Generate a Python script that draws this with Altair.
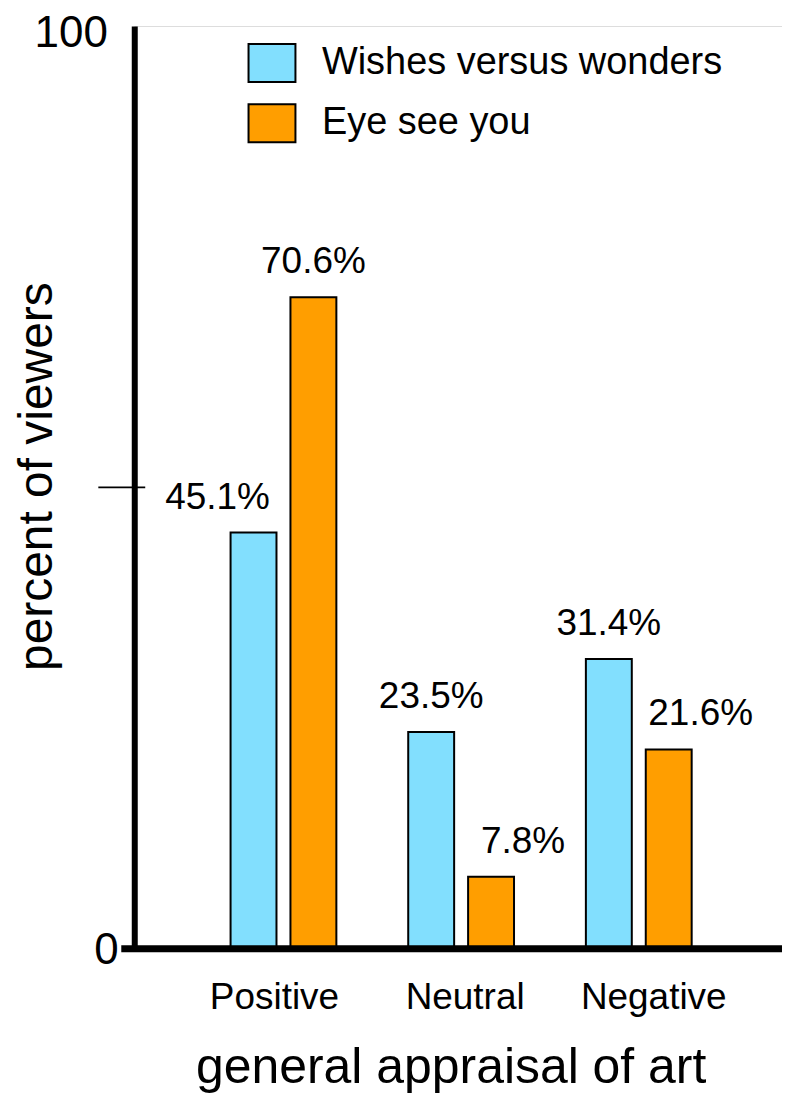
import altair as alt
import pandas as pd

categories = ["Positive", "Neutral", "Negative"]
series = ["Wishes versus wonders", "Eye see you"]
wishes = [45.1, 23.5, 31.4]
eye = [70.6, 7.8, 21.6]
colors = ["#82DFFE", "#FF9E00"]

FONT = "Liberation Sans"

rows = []
for i, c in enumerate(categories):
    vals = [wishes[i], eye[i]]
    for j, s in enumerate(series):
        own = vals[j]
        other = vals[1 - j]
        # labels move outward when the neighbouring bar is taller
        shift = 0
        if other > own:
            shift = -1 if j == 0 else 1
        rows.append({"category": c, "series": s, "value": own,
                     "label": f"{own}%", "shift": shift})
df = pd.DataFrame(rows)

W, H = 649, 924.5

x_enc = alt.X(
    "category:N", sort=categories,
    scale=alt.Scale(range=[60.5, 594.5], paddingInner=0, paddingOuter=0),
    axis=alt.Axis(
        title="general appraisal of art", titleFont=FONT, titleFontSize=50,
        titleFontWeight="normal", titleColor="black", titleX=317, titleY=134,
        titleBaseline="alphabetic", titleAlign="center",
        labelFont=FONT, labelFontSize=37, labelColor="black", labelAngle=0,
        labelPadding=31, ticks=False, tickSize=0, domain=False, grid=False,
        labelOffset={"condition": [
            {"test": "datum.value === 'Positive'", "value": -9},
            {"test": "datum.value === 'Neutral'", "value": 4}],
            "value": 15},
    ),
)
xoff_enc = alt.XOffset("series:N", sort=series,
                       scale=alt.Scale(paddingInner=0.2333, paddingOuter=0.6))
y_enc = alt.Y(
    "value:Q",
    scale=alt.Scale(domain=[0, 100], nice=False, zero=True),
    axis=alt.Axis(
        values=[0, 100], title="percent of viewers", titleFont=FONT,
        titleFontSize=48, titleFontWeight="normal", titleColor="black",
        titleX=-82.5, titleY=451, titleBaseline="alphabetic", titleAlign="center",
        titleAngle=270,
        labelFont=FONT, labelFontSize=44, labelColor="black",
        labelPadding={"condition": {"test": "datum.value === 0", "value": 16},
                      "value": 27},
        labelOffset={"condition": {"test": "datum.value === 100", "value": 8},
                     "value": 2},
        ticks=False, tickSize=0, domainWidth=6, domainColor="black",
        grid=False, labelOverlap=False,
    ),
)

base = alt.Chart(df)

bars = base.mark_bar(stroke="black", strokeWidth=2).encode(
    x=x_enc, xOffset=xoff_enc, y=y_enc,
    fill=alt.Fill(
        "series:N", scale=alt.Scale(domain=series, range=colors),
        legend=alt.Legend(
            title=None, orient="none", legendX=118, legendY=17,
            direction="vertical", padding=0,
            symbolType="M-1.237,-1L1.237,-1L1.237,1L-1.237,1Z",
            symbolSize=1444, symbolStrokeColor="black", symbolStrokeWidth=2,
            symbolOpacity=1,
            labelFont=FONT, labelFontSize=38, labelColor="black",
            labelLimit=600, rowPadding=14.5, labelOffset=30,
        ),
    ),
)

def labels(shift, dx):
    return base.mark_text(
        font=FONT, fontSize=37, color="black", baseline="alphabetic",
        align="center", dy=-24, dx=dx,
    ).encode(
        x=alt.X("category:N", sort=categories),
        xOffset=alt.XOffset("series:N", sort=series),
        y="value:Q", text="label:N",
    ).transform_filter(alt.datum.shift == shift)

one = pd.DataFrame({"k": [0]})
baseline = alt.Chart(one).mark_rule(
    color="black", strokeWidth=7, strokeCap="butt"
).encode(y=alt.datum(0), x=alt.value(-13), x2=alt.value(W))

tick50 = alt.Chart(one).mark_rule(
    color="black", strokeWidth=2, strokeCap="butt"
).encode(y=alt.datum(50), x=alt.value(-36), x2=alt.value(11))

chart = alt.layer(
    bars, baseline, tick50,
    labels(0, 0), labels(-1, -36), labels(1, 32),
).properties(
    width=W, height=H,
    autosize=alt.AutoSizeParams(type="none"),
    padding={"left": 126.5, "top": 17, "right": 0, "bottom": 146},
).configure_view(strokeWidth=0).configure(background="white")

chart.save("out.html", embed_options={"renderer": "svg", "actions": False})
